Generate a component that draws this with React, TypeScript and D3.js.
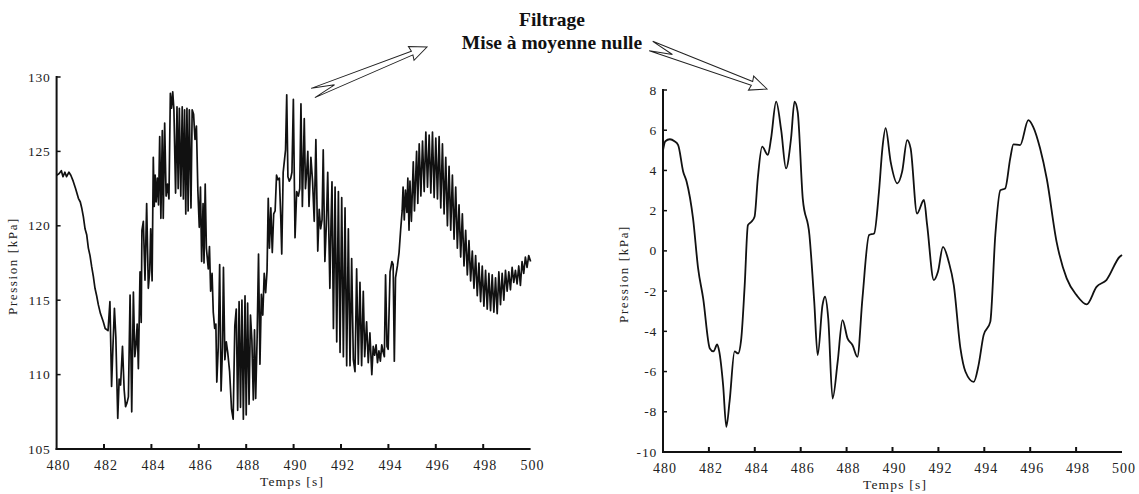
import React from "react";
import * as d3 from "d3";

// ---------- DATA ----------
const xTicks = [480, 482, 484, 486, 488, 490, 492, 494, 496, 498, 500];
const leftYTicks = [105, 110, 115, 120, 125, 130];
const rightYTicks = [-10, -8, -6, -4, -2, 0, 2, 4, 6, 8];

const titleLines = ["Filtrage", "Mise à moyenne nulle"];
const xTitle = "Temps [s]";
const yTitle = "Pression [kPa]";

// Raw pressure signal [time s, pressure kPa]
const rawSmoothStart: [number, number][] = [
  [480.0,123.4],[480.1,123.5],[480.2,123.7],[480.27,123.3],[480.35,123.6],[480.42,123.3],[480.52,123.6],
  [480.6,123.4],[480.7,123.0],[480.8,122.5],[480.92,121.85],[481.0,121.6],[481.06,121.2],[481.13,120.6],
  [481.2,119.8],[481.27,119.4],[481.34,118.5],[481.41,118.0],[481.48,117.25],[481.55,116.6],[481.62,115.8],
  [481.69,115.3],[481.76,114.7],[481.85,114.1],[481.97,113.55],[482.05,113.1],[482.17,112.95]
];
const rawFirstDip: [number, number][] = [
  [482.25,114.9],[482.32,109.2],[482.38,112.0],[482.44,114.45],[482.5,112.5],[482.58,107.06],[482.64,109.7],
  [482.7,109.3],[482.78,111.9],[482.85,109.0],[482.91,107.85],[482.97,108.1],[483.03,108.5],[483.1,115.35],
  [483.14,111.0],[483.17,107.5],[483.24,115.55],[483.3,111.2],[483.35,112.0],[483.4,113.4],[483.45,110.4],
  [483.52,116.9],[483.57,113.5],[483.6,119.7],[483.66,120.3],[483.7,118.0],[483.73,116.35],[483.8,121.5],
  [483.87,115.8],[483.93,117.0],[483.97,119.8],[484.03,116.3],[484.08,124.6]
];
const rawFirstPeak: [number, number][] = [
  [484.12,121.3],[484.16,123.4],[484.2,121.6],[484.25,123.2],[484.3,121.4],[484.35,126.0],[484.4,120.5],
  [484.46,126.4],[484.5,120.5],[484.56,126.9],[484.62,122.0],[484.68,122.8],[484.74,121.8],[484.8,128.9],
  [484.85,127.9],[484.9,129.0],[484.95,127.8],[485.02,122.2],[485.08,128.0],[485.13,122.5],[485.18,127.9],
  [485.24,122.0],[485.3,128.0],[485.35,121.8],[485.4,127.8],[485.45,120.8],[485.5,127.9],[485.55,121.0],
  [485.6,127.8],[485.67,121.2],[485.72,127.8],[485.78,127.5],[485.84,125.8],[485.9,126.7],[485.96,122.4]
];
const rawSecondDip: [number, number][] = [
  [486.02,119.9],[486.07,122.6],[486.12,117.6],[486.18,121.5],[486.22,117.5],[486.27,122.8],[486.32,118.5],
  [486.4,117.1],[486.45,118.6],[486.5,115.6],[486.56,116.8],[486.61,114.2],[486.67,113.1],[486.72,113.4],
  [486.76,109.5],[486.82,111.8],[486.88,117.4],[486.94,108.9],[487.0,111.8],[487.04,117.2],[487.1,111.0],
  [487.16,112.2],[487.22,111.5],[487.3,110.2],[487.38,107.7],[487.45,107.0],[487.52,113.3],[487.58,114.4],
  [487.64,107.6],[487.7,114.9],[487.76,107.8],[487.82,115.0],[487.88,107.0],[487.95,115.3],[488.0,107.3],
  [488.06,114.8],[488.12,108.0],[488.18,114.0],[488.24,112.3],[488.3,108.3],[488.35,113.0],[488.4,108.4],
  [488.46,112.4],[488.52,118.1],[488.58,110.7],[488.64,115.4],[488.7,114.0],[488.76,116.8],[488.82,115.5],
  [488.88,117.0],[488.93,121.85],[488.98,118.5],[489.04,121.2],[489.1,118.2],[489.16,120.8],[489.22,121.0],
  [489.28,123.4],[489.34,123.1],[489.4,123.2],[489.46,120.5],[489.5,118.1],[489.56,123.6],[489.62,124.5],
  [489.66,125.1],[489.71,128.8],[489.76,123.3],[489.82,123.0],[489.88,123.2],[489.93,123.6],[489.99,128.5],
  [490.06,119.2]
];
const rawThirdDip: [number, number][] = [
  [490.13,122.3],[490.2,122.0],[490.26,122.5],[490.31,128.2],[490.37,121.3],[490.45,127.2],[490.5,122.5],
  [490.56,123.8],[490.6,125.0],[490.65,121.3],[490.73,124.6],[490.8,123.0],[490.87,120.3],[490.94,125.8],
  [491.02,118.3],[491.08,121.1],[491.14,119.8],[491.2,120.4],[491.25,125.1],[491.32,117.6],[491.38,120.0],
  [491.44,123.6],[491.53,115.8],[491.58,120.3],[491.62,122.96],[491.68,113.1],[491.75,122.6],[491.82,112.2],
  [491.89,122.3],[491.96,111.5],[492.03,121.9],[492.1,111.2],[492.17,121.2],[492.24,110.6],[492.31,119.8],
  [492.38,110.6],[492.45,117.8],[492.52,111.0],[492.59,110.2],[492.66,117.1],[492.73,110.7],[492.8,116.2],
  [492.87,110.6],[492.94,115.6],[493.0,111.2],[493.08,113.55],[493.15,110.8],[493.22,112.8],[493.3,110.0],
  [493.36,111.9],[493.42,111.3],[493.48,112.0],[493.54,110.8],[493.6,111.6],[493.66,110.9],[493.72,112.0],
  [493.78,111.5],[493.83,111.2],[493.88,116.7],[493.94,111.9],[493.99,111.7],[494.07,116.9],[494.15,117.6],
  [494.2,117.4],[494.25,110.9],[494.3,116.5],[494.38,117.3],[494.45,118.2],[494.52,119.8],[494.58,121.0],
  [494.62,122.6],[494.67,120.4],[494.72,122.4],[494.78,120.9],[494.82,123.2],[494.87,119.7],[494.91,123.0],
  [494.97,120.3],[495.05,124.3],[495.1,121.0],[495.19,125.0],[495.24,121.5]
];
const rawLastWave: [number, number][] = [
  [495.30,125.5],[495.37,122.0],[495.44,125.7],[495.51,122.3],[495.58,126.3],[495.65,122.6],[495.72,126.1],
  [495.79,122.2],[495.86,126.3],[495.93,121.9],[496.00,125.9],[496.07,121.8],[496.14,126.0],[496.21,121.2],
  [496.28,125.5],[496.35,120.8],[496.42,124.6],[496.49,120.0],[496.56,124.0],[496.63,119.7],[496.70,123.4],
  [496.77,119.1],[496.84,122.6],[496.91,118.5],[496.98,121.4],[497.05,117.9],[497.12,120.8],[497.19,117.3],
  [497.26,119.7],[497.33,116.7],[497.40,119.0],[497.47,116.3],[497.54,118.3],[497.61,115.8],[497.68,118.0],
  [497.75,115.3],[497.82,117.5],[497.89,114.9],[497.96,117.3],[498.03,114.6],[498.10,117.0],[498.17,114.4],
  [498.24,116.8],[498.31,114.3],[498.38,116.7],[498.45,114.2],[498.52,116.5],[498.59,114.1],[498.66,116.9],
  [498.73,114.7],[498.80,116.8],[498.87,115.0],[498.94,117.0],[499.01,115.6],[499.08,116.9],[499.15,115.7],
  [499.22,117.2],[499.29,116.2],[499.36,117.0],[499.43,116.1],[499.50,117.3],[499.57,116.0],[499.64,117.6],
  [499.71,116.8],[499.78,117.9],[499.85,117.2],[499.92,118.0],[500.00,117.6]
];

// Filtered, zero-mean signal [time s, pressure kPa]
const filtered: [number, number][] = [
  [480.0,5.0],[480.1,5.45],[480.3,5.55],[480.5,5.45],[480.66,5.26],[480.88,3.94],[481.03,3.44],[481.31,1.6],
  [481.53,-0.87],[481.75,-2.36],[482.04,-4.85],[482.2,-5.0],[482.36,-4.65],[482.45,-5.0],[482.62,-6.68],
  [482.76,-8.75],[482.9,-7.5],[483.12,-5.0],[483.27,-5.1],[483.41,-4.36],[483.56,-1.7],[483.7,1.28],
  [483.85,1.45],[483.99,1.7],[484.13,3.6],[484.32,5.18],[484.57,4.77],[484.71,5.6],[484.93,7.42],
  [485.15,6.0],[485.36,4.1],[485.58,5.6],[485.73,7.42],[485.87,6.9],[486.09,2.6],[486.38,0.79],
  [486.59,-2.53],[486.74,-5.18],[486.95,-2.7],[487.06,-2.28],[487.2,-3.36],[487.39,-7.34],[487.61,-5.52],
  [487.82,-3.44],[488.04,-4.35],[488.26,-4.69],[488.47,-5.27],[488.69,-2.36],[488.98,0.79],[489.2,0.87],
  [489.41,2.94],[489.56,5.1],[489.7,6.1],[489.92,4.43],[490.21,3.36],[490.42,3.94],[490.64,5.51],
  [490.79,5.1],[491.07,1.86],[491.37,2.53],[491.51,1.28],[491.8,-1.45],[491.98,-1.04],[492.2,0.2],
  [492.45,-0.54],[492.67,-1.7],[492.96,-4.85],[493.18,-6.01],[493.54,-6.51],[493.75,-5.68],[493.97,-4.19],
  [494.26,-3.53],[494.48,0.79],[494.7,3.02],[494.91,3.1],[495.13,4.6],[495.27,5.3],[495.56,5.26],
  [495.92,6.5],[496.13,6.17],[496.43,5.1],[496.72,3.6],[497.15,0.45],[497.59,-1.37],[498.02,-2.2],
  [498.46,-2.66],[498.89,-1.79],[499.32,-1.45],[499.9,-0.29],[500.0,-0.2]
];

const rawSignal = [
  ...rawSmoothStart, ...rawFirstDip, ...rawFirstPeak, ...rawSecondDip, ...rawThirdDip, ...rawLastWave
];

// ---------- LAYOUT ----------
const W = 1139, H = 494;
const FONT = "'Liberation Serif', 'Times New Roman', serif";

const xL = d3.scaleLinear().domain([480, 500]).range([56.6, 530.6]);
const yL = d3.scaleLinear().domain([105, 130]).range([449, 77]);
const xR = d3.scaleLinear().domain([480, 500]).range([663, 1122]);
const yR = d3.scaleLinear().domain([-10, 8]).range([452, 90]);

function Axes({ x, y, yTicks, titleX, yTitleX }: any) {
  const [x0, x1] = x.range();
  const [yb, yt] = y.range();
  return (
    <g fontFamily={FONT} fill="#222">
      <line x1={x0} x2={x0} y1={yt - 1} y2={yb + 1} stroke="#111" strokeWidth={2} />
      <line x1={x0 - 1} x2={x1} y1={yb} y2={yb} stroke="#111" strokeWidth={2} />
      {xTicks.map((t) => (
        <g key={"x" + t}>
          {t !== 480 && t !== 500 && (
            <line x1={x(t)} x2={x(t)} y1={yb} y2={yb - 5} stroke="#111" strokeWidth={2} />
          )}
          <text x={x(t) + 2} y={yb + 21} textAnchor="middle" fontSize={14} letterSpacing={1}>
            {t}
          </text>
        </g>
      ))}
      {yTicks.map((v: number) => (
        <g key={"y" + v}>
          {v !== yTicks[0] && (
            <line x1={x0} x2={x0 + 4} y1={y(v)} y2={y(v)} stroke="#111" strokeWidth={1.5} />
          )}
          <text x={x0 - 6} y={y(v) + 4.5} textAnchor="end" fontSize={13.5} letterSpacing={0.8}>
            {v}
          </text>
        </g>
      ))}
      <text x={titleX} y={yb + 37} textAnchor="middle" fontSize={13.5} letterSpacing={1.2}>
        {xTitle}
      </text>
      <text
        transform={`translate(${yTitleX},${(yt + yb) / 2 + 3}) rotate(-90)`}
        textAnchor="middle"
        fontSize={13}
        letterSpacing={1.6}
      >
        {yTitle}
      </text>
    </g>
  );
}

function NotchedArrow({ from, to }: { from: [number, number]; to: [number, number] }) {
  const dx = to[0] - from[0], dy = to[1] - from[1];
  const L = Math.hypot(dx, dy);
  const ang = (Math.atan2(dy, dx) * 180) / Math.PI;
  const pts: [number, number][] = [
    [0, -5], [L - 16, -2], [L - 17, -7.5], [L, 0], [L - 17, 7.5], [L - 16, 2], [0, 5], [23, 0.5]
  ];
  return (
    <polygon
      transform={`translate(${from[0]},${from[1]}) rotate(${ang})`}
      points={pts.map((p) => p.join(",")).join(" ")}
      fill="#fff"
      stroke="#222"
      strokeWidth={1}
      strokeLinejoin="miter"
    />
  );
}

export default function App() {
  const lineL = d3
    .line<[number, number]>()
    .x((d) => xL(d[0]))
    .y((d) => yL(d[1]));
  const lineR = d3
    .line<[number, number]>()
    .x((d) => xR(d[0]))
    .y((d) => yR(d[1]))
    .curve(d3.curveMonotoneX);

  return (
    <svg
      width={W}
      height={H}
      viewBox={`0 0 ${W} ${H}`}
      style={{ position: "absolute", left: 0, top: 0, background: "#fff" }}
    >
      <rect width={W} height={H} fill="#fff" />
      {/* Title */}
      <g fontFamily={FONT} fontWeight="bold" fontSize={19.5} textAnchor="middle" fill="#111">
        <text x={552} y={26}>{titleLines[0]}</text>
        <text x={552} y={49}>{titleLines[1]}</text>
      </g>
      {/* Arrows */}
      <NotchedArrow from={[313, 93]} to={[427, 47]} />
      <NotchedArrow from={[651, 46]} to={[767, 89]} />

      {/* Left chart: raw */}
      <path d={lineL(rawSignal) || ""} fill="none" stroke="#111" strokeWidth={1.7} strokeLinejoin="round" />
      <Axes x={xL} y={yL} yTicks={leftYTicks} titleX={292} yTitleX={17} />

      {/* Right chart: filtered */}
      <path d={lineR(filtered) || ""} fill="none" stroke="#111" strokeWidth={1.8} strokeLinejoin="round" />
      <Axes x={xR} y={yR} yTicks={rightYTicks} titleX={895} yTitleX={628} />
    </svg>
  );
}
